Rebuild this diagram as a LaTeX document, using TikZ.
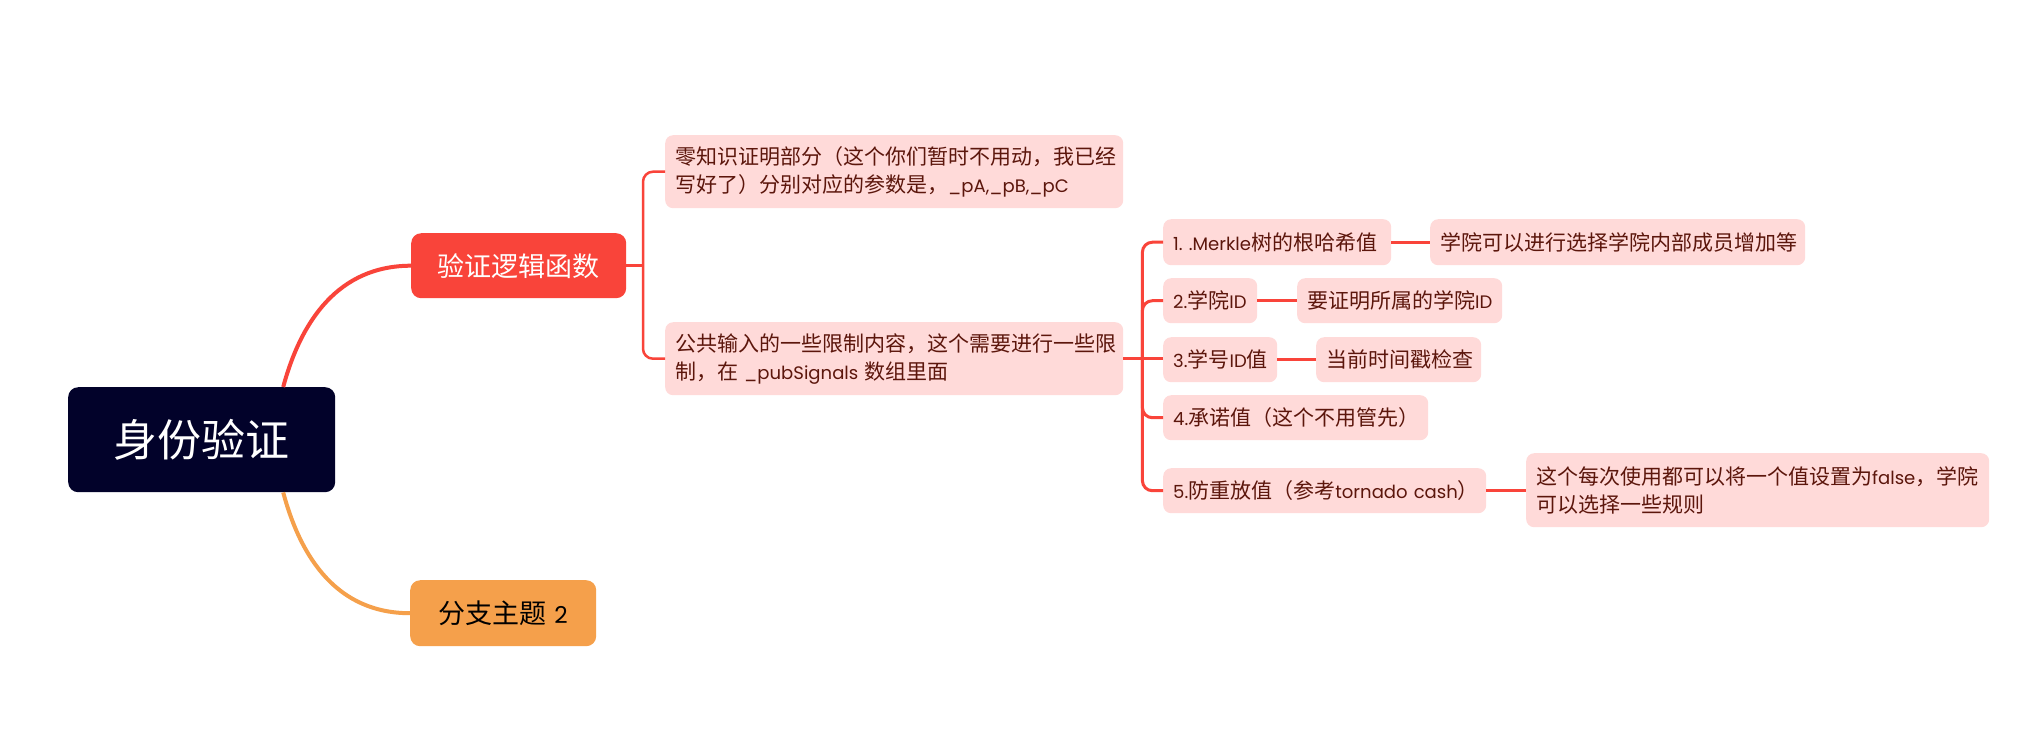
\documentclass[tikz,border=0pt]{standalone}
\usepackage{fontspec}
\setmainfont[Scale=0.86]{Poppins}
\newfontfamily\latinfont[Scale=0.86]{Poppins}
\newfontfamily\cjkfont{Noto Sans CJK SC}
\XeTeXinterchartokenstate=1
\newXeTeXintercharclass\CJKcls
\newcount\mycnt
\def\setcjkrange#1#2{\mycnt=#1\relax\loop\XeTeXcharclass\mycnt=\CJKcls\relax\ifnum\mycnt<#2\advance\mycnt by 1\relax\repeat}
\setcjkrange{"4E00}{"9FFF}
\setcjkrange{"3000}{"303F}
\setcjkrange{"FF00}{"FFEF}
\XeTeXinterchartoks 0 \CJKcls = {\cjkfont}
\XeTeXinterchartoks 4095 \CJKcls = {\cjkfont}
\XeTeXinterchartoks \CJKcls 0 = {\latinfont}
\XeTeXinterchartoks 4095 0 = {\latinfont}
\usetikzlibrary{calc}
\definecolor{rootc}{RGB}{2,2,42}
\definecolor{redc}{RGB}{249,68,58}
\definecolor{orangec}{RGB}{245,160,75}
\definecolor{pinkc}{RGB}{255,218,217}
\definecolor{pinktxt}{RGB}{92,22,12}
\tikzset{
  box/.style={anchor=north west, inner xsep=10pt, inner ysep=0pt, align=left},
  sz/.style 2 args={text width=#1pt, minimum height=#2pt},
  rootbox/.style={box, rounded corners=10pt, fill=rootc, text=white, align=center, font=\fontsize{44}{52}\selectfont},
  redbox/.style={box, rounded corners=10pt, fill=redc, text=white, align=center, font=\fontsize{27}{32}\selectfont},
  orangebox/.style={box, rounded corners=10pt, fill=orangec, text=black, align=center, font=\fontsize{27}{32}\selectfont},
  pinkbox/.style={box, rounded corners=8pt, fill=pinkc, text=pinktxt, font=\fontsize{21}{28}\selectfont},
  mainline/.style={line width=4pt},
  brline/.style={draw=redc, line width=2.5pt},
  subline/.style={draw=redc, line width=3pt},
}
\begin{document}
\begin{tikzpicture}[x=1pt,y=-1pt]
\fill[white] (0,0) rectangle (2017,732);
\useasboundingbox (0,0) rectangle (2017,732);

\node[rootbox, sz={247}{105}] (root) at (68,387) {身份验证};
\node[redbox, sz={195}{65}] (verify) at (411,233) {验证逻辑函数};
\node[orangebox, sz={166}{66}] (branch) at (410,580) {分支主题~2};

\node[pinkbox, sz={438}{73}] (zk) at (665,135) {零知识证明部分（这个你们暂时不用动，我已经\\写好了）分别对应的参数是，\_pA,\_pB,\_pC};
\node[pinkbox, sz={438}{73}] (pub) at (665,322) {公共输入的一些限制内容，这个需要进行一些限\\制，在~\_pubSignals~数组里面};

\node[pinkbox, sz={208}{46}] (m1) at (1163,219) {1.~.Merkle树的根哈希值};
\node[pinkbox, sz={74}{45}] (m2) at (1163,278) {2.学院ID};
\node[pinkbox, sz={94}{45}] (m3) at (1163,337) {3.学号ID值};
\node[pinkbox, sz={245}{45}] (m4) at (1163,395) {4.承诺值（这个不用管先）};
\node[pinkbox, sz={303}{45}] (m5) at (1163,468) {5.防重放值（参考tornado~cash）};

\node[pinkbox, sz={355}{46}] (a) at (1430,219) {学院可以进行选择学院内部成员增加等};
\node[pinkbox, sz={185}{45}] (b) at (1297,278) {要证明所属的学院ID};
\node[pinkbox, sz={145}{45}] (c) at (1316,337) {当前时间戳检查};
\node[pinkbox, sz={443}{74}] (e) at (1526,453) {这个每次使用都可以将一个值设置为false，学院\\可以选择一些规则};

% main curves
\draw[mainline, draw=redc] ($(root.north)+(81.5,0)$) .. controls +(18,-67) and +(-72,0) .. (verify.west);
\draw[mainline, draw=orangec] ($(root.south)+(81.5,0)$) .. controls +(18,67) and +(-72,0) .. (branch.west);

% level 2 bracket
\draw[brline] (verify.east) -- ($(verify.east -| zk.west)+(-22,0)$);
\draw[brline, rounded corners=10pt] (zk.west) -- ++(-22,0) |- (pub.west);

% level 3 bracket
\draw[subline] (pub.east) -- (pub.east -| m3.west);
\foreach \n in {m1,m2,m4,m5}
  \draw[subline, rounded corners=10pt] ($(pub.east)+(19,0)$) |- (\n.west);

% level 4 links
\draw[subline] (m1.east) -- (m1.east -| a.west);
\draw[subline] (m2.east) -- (m2.east -| b.west);
\draw[subline] (m3.east) -- (m3.east -| c.west);
\draw[subline] (m5.east) -- (m5.east -| e.west);
\end{tikzpicture}
\end{document}
